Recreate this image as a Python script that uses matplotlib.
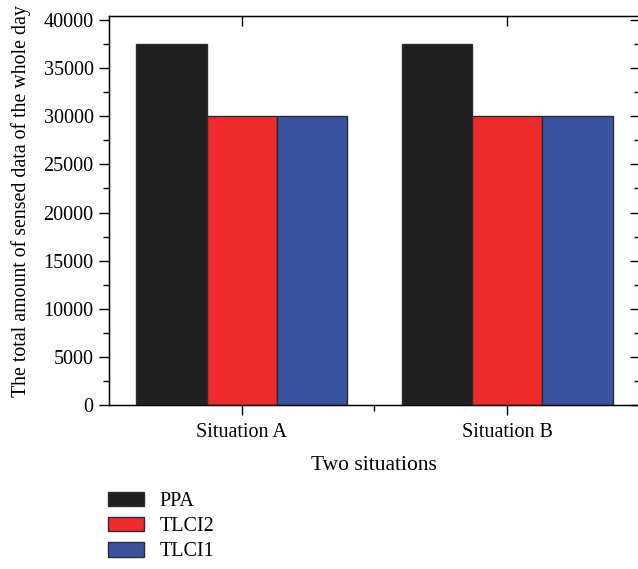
import matplotlib
matplotlib.use("Agg")
from matplotlib import pyplot as plt
from matplotlib.ticker import MultipleLocator, FixedLocator
import numpy as np

situations = ["Situation A", "Situation B"]
series = ["PPA", "TLCI2", "TLCI1"]
ppa = [37500, 37500]
tlci2 = [30000, 30000]
tlci1 = [30000, 30000]
colors = ["#202021", "#ee2a2b", "#3a53a0"]

plt.rcParams["font.family"] = ["Liberation Serif", "DejaVu Serif"]
plt.rcParams["font.size"] = 14.5

fig = plt.figure(figsize=(6.38, 5.69), dpi=100)
ax = fig.add_axes([0.1708, 0.2882, 0.832, 0.6842])

x = np.arange(len(situations))
w = 0.265
for i, (vals, name) in enumerate(zip([ppa, tlci2, tlci1], series)):
    ax.bar(x + (i - 1) * w, vals, w, color=colors[i], edgecolor="#2a2a33",
           linewidth=1.0, label=name)

ax.set_xlim(-0.5, 1.5)
ax.set_ylim(0, 40450)
ax.set_xticks(x)
ax.set_xticklabels(situations)
ax.xaxis.set_minor_locator(FixedLocator([0.5]))
ax.yaxis.set_major_locator(MultipleLocator(5000))
ax.yaxis.set_minor_locator(MultipleLocator(2500))

ax.tick_params(axis="y", which="both", direction="out", left=True, right=False)
ax.tick_params(axis="x", which="both", direction="out", bottom=True)
ax.tick_params(which="major", length=7, width=1.0, labelsize=14.5)
ax.tick_params(axis="y", which="major", pad=4)
ax.tick_params(axis="x", which="major", pad=6)
ax.tick_params(which="minor", length=4, width=1.0)
for s in ax.spines.values():
    s.set_linewidth(1.0)
    s.set_color("#333333")

# inward ticks on top and right
ax2 = ax.twinx()
ax2.set_ylim(ax.get_ylim())
ax2.yaxis.set_major_locator(MultipleLocator(5000))
ax2.yaxis.set_minor_locator(MultipleLocator(2500))
ax2.tick_params(axis="y", which="both", direction="in", labelright=False)
ax2.tick_params(which="major", length=7, width=1.0)
ax2.tick_params(which="minor", length=4, width=1.0)
ax3 = ax.twiny()
ax3.set_xlim(ax.get_xlim())
ax3.set_xticks(x)
ax3.tick_params(axis="x", direction="in", labeltop=False, length=7, width=1.0)

ax.set_xlabel("Two situations", fontsize=15.5, labelpad=10)
ax.set_ylabel("The total amount of sensed data of the whole day", fontsize=14.3)
ax.yaxis.set_label_coords(-0.146, 0.523)

handles, labels = ax.get_legend_handles_labels()
fig.legend(handles, labels, loc="upper left", bbox_to_anchor=(0.157, 0.150),
           frameon=False, fontsize=14.5, handlelength=1.8, handleheight=0.75,
           labelspacing=0.28, handletextpad=0.75, borderaxespad=0)

fig.savefig("out.png", dpi=100)
